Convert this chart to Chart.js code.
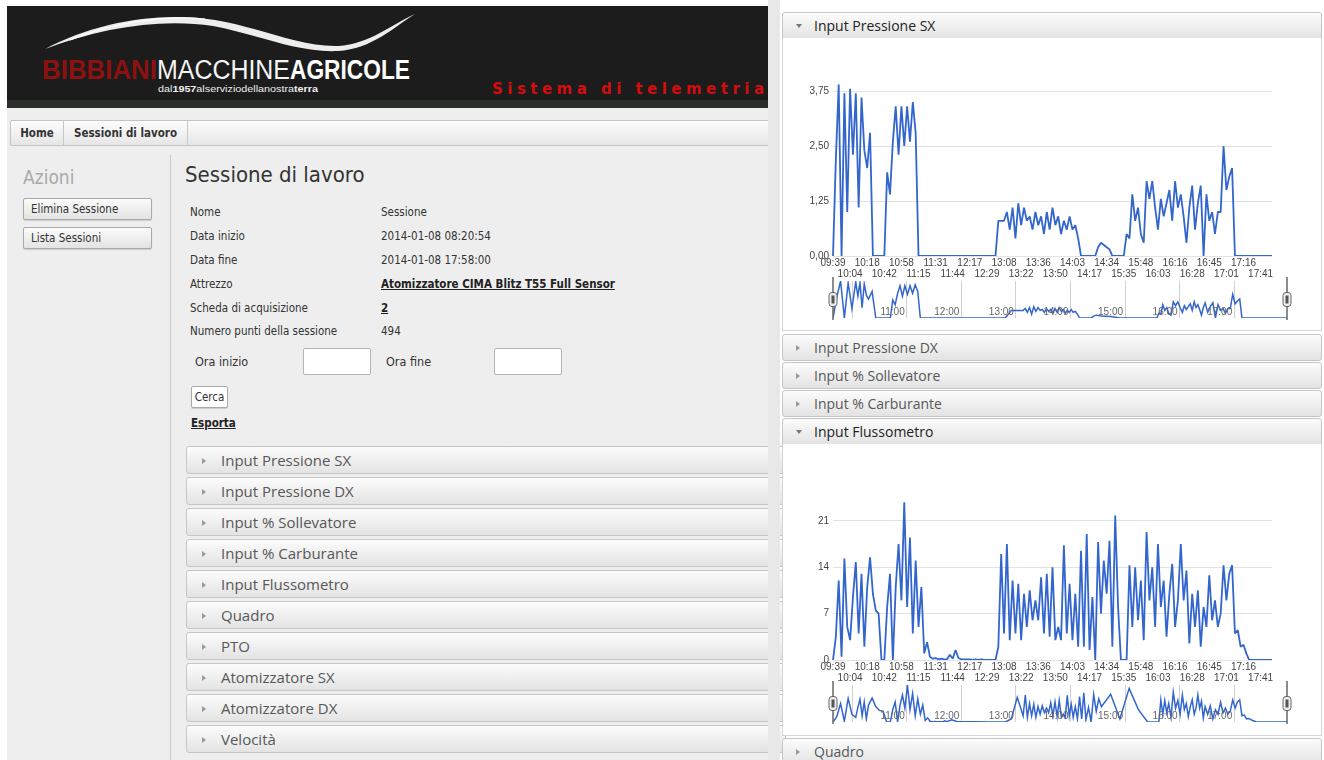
<!DOCTYPE html>
<html>
<head>
<meta charset="utf-8">
<title>Sessione di lavoro</title>
<script src="https://cdn.jsdelivr.net/npm/chart.js@4.4.1/dist/chart.umd.min.js"></script>
<style>
  body { margin: 0; width: 1324px; height: 760px; overflow: hidden; background: #fff; position: relative; font-family: 'Open Sans', sans-serif; }
  .abs { position: absolute; }
  .cond { font-family: 'DejaVu Sans Condensed', 'Liberation Sans Narrow', 'Liberation Sans', sans-serif; font-stretch: condensed; }
  .btn { position: absolute; box-sizing: border-box; border: 1px solid #a9a9a9; border-radius: 2px; background: linear-gradient(#fbfbfb, #e3e3e3); box-shadow: 0 1px 1px rgba(0,0,0,0.15); color: #333; font-size: 11.5px; }
  .row { position: absolute; font-size: 11.5px; color: #333; }
  .acc { position: absolute; box-sizing: border-box; border: 1px solid #c6c6c6; border-radius: 3px; background: linear-gradient(#fcfcfc, #e3e3e3); color: #585858; white-space: nowrap; }
  .acc.open { color: #222; border-bottom-left-radius: 0; border-bottom-right-radius: 0; }
  .acc .arr { position: absolute; width: 0; height: 0; border-style: solid; }
  .acc .closed { border-width: 3px 0 3px 4px; border-color: transparent transparent transparent #999; }
  .acc .down { border-width: 4px 3px 0 3px; border-color: #777 transparent transparent transparent; }
  .left-acc { left: 186px; width: 600px; height: 28px; font-size: 15px; line-height: 26px; }
  .left-acc span.t { position: absolute; left: 34px; }
  .left-acc .arr { left: 15px; top: 11px; }
  .right-acc { left: 782px; width: 540px; height: 27px; font-size: 14px; line-height: 25px; }
  .right-acc span.t { position: absolute; left: 31px; }
  .right-acc .arr { left: 13px; top: 10px; }
  .right-acc .down { top: 11px; }
  .panel { position: absolute; left: 782px; width: 540px; box-sizing: border-box; border: 1px solid #d4d4d4; border-top: none; background: #fff; }
  .inp { position: absolute; box-sizing: border-box; background: #fff; border: 1px solid #b5b5b5; border-radius: 2px; }
  canvas { position: absolute; }
</style>
</head>
<body>

<!-- header -->
<div class="abs" style="left:7px;top:6px;width:761px;height:94px;background:#1c1c1c;"></div>
<div class="abs" style="left:7px;top:100px;width:761px;height:8px;background:#2c2e2c;"></div>
<svg class="abs" style="left:0;top:0;" width="768" height="108">
  <path d="M45,49 C95,22 160,11 215,20 C262,28 300,47 338,46 C370,44 392,24 415,14
           C394,27 372,49 338,51 C298,53 260,35 213,26 C160,18 100,28 45,49 Z" fill="#ededed"/>
  <path d="M70,40 C115,22 165,15 205,19" fill="none" stroke="#ffffff" stroke-width="1.2"/>
  <text x="42" y="79" font-family="Liberation Sans Narrow, Liberation Sans, sans-serif" font-weight="bold" font-size="27" fill="#8c1111" textLength="115" lengthAdjust="spacingAndGlyphs">BIBBIANI</text>
  <text x="157" y="79" font-family="Liberation Sans Narrow, Liberation Sans, sans-serif" font-size="27" fill="#f4f4f4" textLength="133" lengthAdjust="spacingAndGlyphs">MACCHINE</text>
  <text x="290" y="79" font-family="Liberation Sans Narrow, Liberation Sans, sans-serif" font-weight="bold" font-size="27" fill="#ffffff" textLength="120" lengthAdjust="spacingAndGlyphs">AGRICOLE</text>
  <text x="158" y="92" font-family="Liberation Sans Narrow, Liberation Sans, sans-serif" font-size="9.5" fill="#eeeeee" textLength="160" lengthAdjust="spacingAndGlyphs">dal<tspan font-weight="bold">1957</tspan>alserviziodellanostra<tspan font-weight="bold">terra</tspan></text>
  <text x="492" y="94" font-family="DejaVu Sans, sans-serif" font-weight="bold" font-size="15" fill="#d40c0c" textLength="272" lengthAdjust="spacing">Sistema di telemetria</text>
</svg>

<!-- left page -->
<div class="abs" style="left:7px;top:108px;width:761px;height:652px;background:#eeeeee;"></div>
<div class="abs cond" style="left:10px;top:120px;width:760px;height:26px;box-sizing:border-box;border:1px solid #c4c4c4;border-radius:2px;background:linear-gradient(#fdfdfd,#e6e6e6);font-size:11.5px;font-weight:bold;color:#333;line-height:24px;">
  <span class="abs" style="left:0;width:52px;text-align:center;border-right:1px solid #c8c8c8;height:24px;">Home</span>
  <span class="abs" style="left:53px;width:123px;text-align:center;border-right:1px solid #c8c8c8;height:24px;">Sessioni di lavoro</span>
</div>

<div class="abs cond" style="left:23px;top:166px;font-size:19px;color:#a9a9a9;">Azioni</div>
<div class="btn cond" style="left:23px;top:198px;width:129px;height:22px;line-height:20px;padding-left:7px;">Elimina Sessione</div>
<div class="btn cond" style="left:23px;top:227px;width:129px;height:22px;line-height:20px;padding-left:7px;">Lista Sessioni</div>
<div class="abs" style="left:170px;top:155px;width:1px;height:605px;background:#c9c9c9;"></div>

<div class="abs cond" style="left:185px;top:162px;font-size:22px;color:#333;">Sessione di lavoro</div>
<div class="row cond" style="left:190px;top:205px;">Nome</div>
<div class="row cond" style="left:381px;top:205px;">Sessione</div>
<div class="row cond" style="left:190px;top:229px;">Data inizio</div>
<div class="row cond" style="left:381px;top:229px;">2014-01-08 08:20:54</div>
<div class="row cond" style="left:190px;top:253px;">Data fine</div>
<div class="row cond" style="left:381px;top:253px;">2014-01-08 17:58:00</div>
<div class="row cond" style="left:190px;top:277px;">Attrezzo</div>
<div class="row cond" style="left:381px;top:277px;font-weight:bold;text-decoration:underline;color:#222;">Atomizzatore CIMA Blitz T55 Full Sensor</div>
<div class="row cond" style="left:190px;top:301px;">Scheda di acquisizione</div>
<div class="row cond" style="left:381px;top:301px;font-weight:bold;text-decoration:underline;color:#222;">2</div>
<div class="row cond" style="left:190px;top:324px;">Numero punti della sessione</div>
<div class="row cond" style="left:381px;top:324px;">494</div>
<div class="row cond" style="left:195px;top:354px;font-size:12.5px;">Ora inizio</div>
<div class="inp" style="left:303px;top:348px;width:68px;height:27px;"></div>
<div class="row cond" style="left:386px;top:354px;font-size:12.5px;">Ora fine</div>
<div class="inp" style="left:494px;top:348px;width:68px;height:27px;"></div>
<div class="btn cond" style="left:191px;top:386px;width:37px;height:22px;line-height:20px;text-align:center;background:#fff;">Cerca</div>
<div class="row cond" style="left:191px;top:416px;font-weight:bold;text-decoration:underline;color:#222;">Esporta</div>

<div class="acc left-acc" style="top:446px;"><i class="arr closed"></i><span class="t">Input Pressione SX</span></div>
<div class="acc left-acc" style="top:477px;"><i class="arr closed"></i><span class="t">Input Pressione DX</span></div>
<div class="acc left-acc" style="top:508px;"><i class="arr closed"></i><span class="t">Input % Sollevatore</span></div>
<div class="acc left-acc" style="top:539px;"><i class="arr closed"></i><span class="t">Input % Carburante</span></div>
<div class="acc left-acc" style="top:570px;"><i class="arr closed"></i><span class="t">Input Flussometro</span></div>
<div class="acc left-acc" style="top:601px;"><i class="arr closed"></i><span class="t">Quadro</span></div>
<div class="acc left-acc" style="top:632px;"><i class="arr closed"></i><span class="t">PTO</span></div>
<div class="acc left-acc" style="top:663px;"><i class="arr closed"></i><span class="t">Atomizzatore SX</span></div>
<div class="acc left-acc" style="top:694px;"><i class="arr closed"></i><span class="t">Atomizzatore DX</span></div>
<div class="acc left-acc" style="top:725px;"><i class="arr closed"></i><span class="t">Velocità</span></div>

<!-- separator strip -->
<div class="abs" style="left:768px;top:0;width:12px;height:760px;background:#e8e8e8;"></div>

<!-- right panel -->
<div class="acc right-acc open" style="top:12px;"><i class="arr down"></i><span class="t">Input Pressione SX</span></div>
<div class="panel" style="top:38px;height:293px;"></div>
<div class="acc right-acc" style="top:334px;"><i class="arr closed"></i><span class="t">Input Pressione DX</span></div>
<div class="acc right-acc" style="top:362px;"><i class="arr closed"></i><span class="t">Input % Sollevatore</span></div>
<div class="acc right-acc" style="top:390px;"><i class="arr closed"></i><span class="t">Input % Carburante</span></div>
<div class="acc right-acc open" style="top:418px;"><i class="arr down"></i><span class="t">Input Flussometro</span></div>
<div class="panel" style="top:444px;height:292px;"></div>
<div class="acc right-acc" style="top:738px;"><i class="arr closed"></i><span class="t">Quadro</span></div>

<canvas id="pressione-sx" width="540" height="245" style="left:782px;top:38px;"></canvas>
<canvas id="pressione-sx-range" width="540" height="48" style="left:782px;top:276px;"></canvas>
<canvas id="flussometro" width="540" height="243" style="left:782px;top:444px;"></canvas>
<canvas id="flussometro-range" width="540" height="48" style="left:782px;top:680px;"></canvas>

<script>
const tickLabels = ['09:39', '10:04', '10:18', '10:42', '10:58', '11:15', '11:31', '11:44', '12:17', '12:29',
  '13:08', '13:22', '13:36', '13:50', '14:03', '14:17', '14:34', '15:35', '15:48', '16:03',
  '16:16', '16:28', '16:45', '17:01', '17:16', '17:41'];
const rangeTickLabels = ['10:00', '11:00', '12:00', '13:00', '14:00', '15:00', '16:00', '17:00'];
const sessionEnd = '17:58';
const pointsPerTick = 6;

// Input Pressione SX (bar)
const pressioneSx = [
  0, 2.2, 3.9, 0, 3.7, 1.0, 3.8, 2.3, 3.7, 1.1, 3.6, 2.4, 2.0, 2.8, 0,
  0, 0, 0, 0, 1.9, 1.4, 2.6, 3.4, 2.3, 3.4, 2.5, 3.4, 2.6, 3.5, 2.8,
  0, 0, 0, 0, 0, 0, 0, 0, 0, 0, 0, 0, 0, 0, 0, 0, 0, 0, 0, 0, 0, 0, 0, 0, 0, 0, 0, 0,
  0.8, 0.8, 0.8, 1.0, 0.6, 1.1, 0.4, 1.2, 0.7, 1.1, 0.8, 0.9, 0.6, 1.0, 0.7,
  0.9, 0.5, 1.0, 0.6, 1.1, 0.7, 0.9, 0.5, 0.8, 0.6, 0.9, 0.6, 0.7, 0.4,
  0, 0, 0, 0, 0, 0,
  0.2, 0.3, 0.25, 0.2, 0.15,
  0, 0, 0, 0, 0,
  0.5, 0.4, 1.4, 0.8, 1.1, 0.5, 0.3, 1.7, 1.3, 1.7, 1.1, 0.6, 1.3, 0.9, 1.2, 1.5, 0.8, 1.7, 1.1,
  1.4, 0.9, 0.3, 1.1, 1.6, 0.6, 1.2, 1.6, 0, 1.4, 0.8, 1.0, 0.5, 1.0, 1.0, 2.5, 1.5, 1.8, 2.0,
  0, 0, 0, 0, 0, 0, 0, 0, 0, 0, 0, 0, 0, 0
];

// Input Flussometro (l/min)
const flussometro = [
  0, 3.5, 12, 0.5, 15.3, 5, 3, 9.5, 14.8, 4, 13, 2, 11, 15.5, 10, 7.5, 7,
  0, 0,
  8, 13, 0, 11, 17.5, 9, 23.8, 8, 18.5, 4, 15, 5, 11, 1, 2.7, 0.5, 0.2, 0.3, 0.1, 0.2,
  0.1, 0.1, 0.8, 0.2, 1.5, 0.3, 0.1, 0.1, 0.1, 0.1, 0, 0.1, 0, 0.1, 0, 0, 0, 0, 0,
  2, 16, 4, 17.5, 3, 12, 4, 11.5, 3, 10, 5, 10.5, 6, 9, 6, 12.5, 4, 13, 3.5, 14, 3, 5,
  3, 17.3, 4, 11.5, 3, 10, 2, 16.5, 2, 19, 1.5, 9.5, 0, 17.8, 7, 15, 10, 18, 2, 21.8, 8,
  0, 0, 0,
  14.3, 5, 14, 6, 12, 3, 19.3, 9, 14, 5, 17.5, 8, 12, 3.5, 10, 14.5, 5, 9, 17.5, 9, 13.5,
  2.5, 10, 5, 10.5, 2, 8, 5, 12.8, 6, 9, 5, 7, 14.3, 9, 13, 14.3, 4, 4.5, 2, 2.3, 1,
  0, 0, 0, 0, 0, 0, 0, 0, 0
];

const lineBlue = '#3366cc';
Chart.defaults.font.family = "'Liberation Sans', Arial, sans-serif";

const toHours = (label) => {
  const [h, m] = label.split(':').map(Number);
  return h + m / 60;
};

// time of each sample, placed between the two axis labels around it
const sampleTimes = (count) => {
  const t = tickLabels.map(toHours);
  const lastTick = (t.length - 1) * pointsPerTick;
  const end = toHours(sessionEnd);
  const times = [];
  for (let i = 0; i < count; i++) {
    if (i <= lastTick) {
      const k = Math.min(Math.floor(i / pointsPerTick), t.length - 2);
      const f = (i - k * pointsPerTick) / pointsPerTick;
      times.push(t[k] + (t[k + 1] - t[k]) * f);
    } else {
      const f = (i - lastTick) / (count - 1 - lastTick);
      times.push(t[t.length - 1] + (end - t[t.length - 1]) * f);
    }
  }
  return times;
};

const buildChart = (id, values, yMax, yTicks, topPad, formatTick) =>
  new Chart(document.getElementById(id), {
    type: 'line',
    data: {
      labels: values.map((_, i) => i),
      datasets: [
        {
          data: values,
          borderColor: lineBlue,
          borderWidth: 1.8,
          borderJoinStyle: 'bevel',
          pointRadius: 0,
          tension: 0,
        },
      ],
    },
    options: {
      responsive: false,
      animation: false,
      devicePixelRatio: 1,
      layout: { padding: { top: topPad, right: 50, left: 0, bottom: 0 } },
      plugins: { legend: { display: false }, tooltip: { enabled: false } },
      scales: {
        x: {
          grid: { display: false, drawTicks: false, tickLength: 0 },
          border: { display: false },
          afterFit: (scale) => {
            scale.height = 27;
          },
          ticks: {
            autoSkip: false,
            maxRotation: 0,
            minRotation: 0,
            padding: 2,
            color: '#444',
            font: { size: 10, lineHeight: 1.1 },
            callback: (value, index) => {
              if (index % pointsPerTick) return '';
              const k = index / pointsPerTick;
              return k % 2 ? ['', tickLabels[k]] : tickLabels[k];
            },
          },
        },
        y: {
          min: 0,
          max: yMax,
          afterFit: (scale) => {
            scale.width = 51;
          },
          afterBuildTicks: (scale) => {
            scale.ticks = yTicks.map((v) => ({ value: v }));
          },
          grid: { color: '#e2e2e2', drawTicks: false },
          border: { display: false },
          ticks: { padding: 4, color: '#444', font: { size: 10 }, callback: formatTick },
        },
      },
    },
  });

const rangeHandles = {
  id: 'rangeHandles',
  afterDraw(chart) {
    const { ctx, chartArea } = chart;
    const xScale = chart.scales.x;
    ctx.save();
    ctx.font = "10px 'Liberation Sans', Arial, sans-serif";
    ctx.fillStyle = '#666';
    ctx.textAlign = 'right';
    ctx.textBaseline = 'bottom';
    rangeTickLabels.forEach((label) => {
      const x = xScale.getPixelForValue(toHours(label)) - 2;
      if (x - ctx.measureText(label).width < chartArea.left + 8) return;
      ctx.fillText(label, x, chartArea.bottom - 1);
    });
    const mid = (chartArea.top + chartArea.bottom) / 2;
    [chartArea.left, chartArea.right].forEach((x) => {
      ctx.strokeStyle = '#666';
      ctx.lineWidth = 1.5;
      ctx.beginPath();
      ctx.moveTo(x, chartArea.top - 4);
      ctx.lineTo(x, chartArea.bottom + 2);
      ctx.stroke();
      ctx.fillStyle = '#eeeeee';
      ctx.strokeStyle = '#666';
      ctx.lineWidth = 1;
      ctx.beginPath();
      ctx.roundRect(x - 4, mid - 7, 8, 14, 3);
      ctx.fill();
      ctx.stroke();
      ctx.fillStyle = '#555';
      ctx.fillRect(x - 1.5, mid - 4, 3, 8);
    });
    ctx.restore();
  },
};

const buildRange = (id, values, yMax) => {
  const times = sampleTimes(values.length);
  return new Chart(document.getElementById(id), {
    type: 'line',
    data: {
      datasets: [
        {
          data: values.map((v, i) => ({ x: times[i], y: v })),
          borderColor: lineBlue,
          borderWidth: 1.5,
          pointRadius: 0,
          tension: 0,
        },
      ],
    },
    options: {
      responsive: false,
      animation: false,
      devicePixelRatio: 1,
      layout: { padding: { top: 5, right: 35, left: 51, bottom: 6 } },
      plugins: { legend: { display: false }, tooltip: { enabled: false } },
      scales: {
        x: {
          type: 'linear',
          min: toHours(tickLabels[0]),
          max: toHours(sessionEnd),
          afterBuildTicks: (scale) => {
            scale.ticks = rangeTickLabels.map((l) => ({ value: toHours(l) }));
          },
          grid: { color: '#d0d0d0', drawTicks: false },
          border: { display: false },
          ticks: { display: false },
        },
        y: { display: false, min: 0, max: yMax },
      },
    },
    plugins: [rangeHandles],
  });
};

buildChart('pressione-sx', pressioneSx, 4, [0, 1.25, 2.5, 3.75], 42, (v) => v.toFixed(2).replace('.', ','));
buildRange('pressione-sx-range', pressioneSx, 3.9);
buildChart('flussometro', flussometro, 24, [0, 7, 14, 21], 57, (v) => String(v));
buildRange('flussometro-range', flussometro, 24);
</script>
</body>
</html>
